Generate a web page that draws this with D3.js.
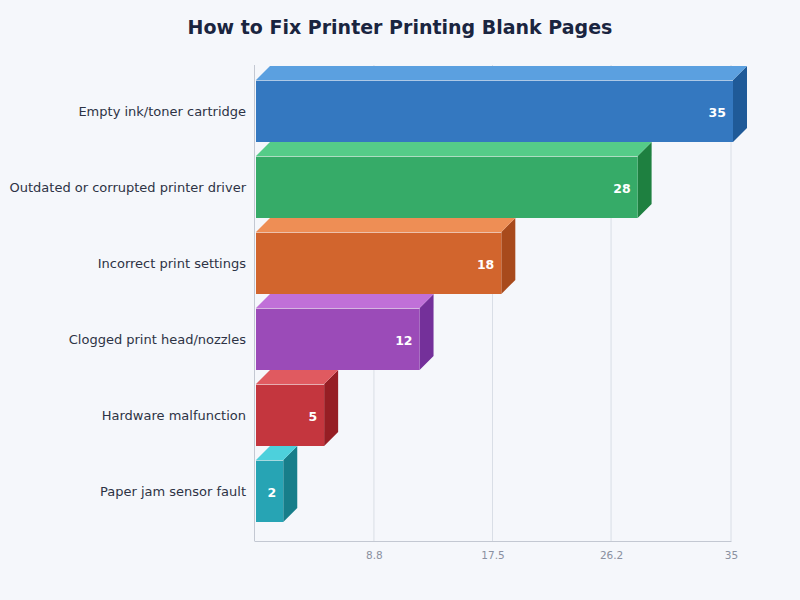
<!DOCTYPE html>
<html>
<head>
<meta charset="utf-8">
<script src="https://cdn.jsdelivr.net/npm/d3@7"></script>
<style>
  html, body { margin: 0; padding: 0; background: #f5f7fb; }
  svg { display: block; font-family: "DejaVu Sans", sans-serif; }
</style>
</head>
<body>
<svg id="chart" width="800" height="600"></svg>
<script>
const categories = [
  "Empty ink/toner cartridge",
  "Outdated or corrupted printer driver",
  "Incorrect print settings",
  "Clogged print head/nozzles",
  "Hardware malfunction",
  "Paper jam sensor fault"
];
const values = [35, 28, 18, 12, 5, 2];
const frontColors = ["#3478c0", "#36ab68", "#d2652d", "#9b4bb8", "#c4363e", "#27a4b4"];
const topColors   = ["#5ba0e0", "#55cc88", "#ee8e55", "#c070d8", "#e05a60", "#4dd0dc"];
const sideColors  = ["#1f5a98", "#1e8040", "#a84a1c", "#74309a", "#961e24", "#177e8a"];
const tickValues = [8.8, 17.5, 26.2, 35];
const title = "How to Fix Printer Printing Blank Pages";

const svg = d3.select("#chart");
const W = 800, H = 600;
const pLeft = 254, pRight = 731, pTop = 65, pBottom = 541;
const depth = 14;

svg.append("rect").attr("width", W).attr("height", H).attr("fill", "#f5f7fb");

svg.append("text")
  .attr("x", W / 2).attr("y", 34)
  .attr("text-anchor", "middle")
  .attr("font-size", 19).attr("font-weight", "bold")
  .attr("fill", "#1a2540")
  .text(title);

const x = d3.scaleLinear().domain([0, 35]).range([pLeft, pRight]);
const y = d3.scaleBand().domain(categories).range([pTop - 2, pBottom - 2])
  .paddingInner(14 / 76).paddingOuter(0.2237);

// gridlines
svg.append("g").selectAll("line").data(tickValues).join("line")
  .attr("x1", d => x(d)).attr("x2", d => x(d))
  .attr("y1", pTop).attr("y2", pBottom)
  .attr("stroke", "#d9dee6").attr("stroke-width", 1);

// axes
const xAxis = d3.axisBottom(x).tickValues(tickValues).tickSize(0).tickPadding(11)
  .tickFormat(d => String(d));
const gx = svg.append("g").attr("transform", `translate(0,${pBottom})`).call(xAxis);
gx.select(".domain").attr("stroke", "#c3c8d2");
gx.selectAll("text").attr("fill", "#8a90a0").attr("font-size", 10.5)
  .attr("font-family", "DejaVu Sans, sans-serif");

svg.append("line")
  .attr("x1", pLeft + 0.5).attr("x2", pLeft + 0.5)
  .attr("y1", pTop).attr("y2", pBottom)
  .attr("stroke", "#c3c8d2");

// category labels
svg.append("g").selectAll("text").data(categories).join("text")
  .attr("x", pLeft - 8)
  .attr("y", d => y(d) + y.bandwidth() / 2)
  .attr("dy", "0.35em")
  .attr("text-anchor", "end")
  .attr("font-size", 13)
  .attr("fill", "#2d3345")
  .text(d => d);

// bars
const data = categories.map((c, i) => ({ c, v: values[i], i }));
const bars = svg.append("g").selectAll("g").data(data).join("g");
const x0 = x(0) + 2;

bars.append("path") // side
  .attr("d", d => {
    const x1 = x0 + x(d.v) - x(0), y0 = y(d.c), h = y.bandwidth();
    return `M${x1},${y0} L${x1 + depth},${y0 - depth} L${x1 + depth},${y0 + h - depth} L${x1},${y0 + h} Z`;
  })
  .attr("fill", d => sideColors[d.i]);

bars.append("path") // top
  .attr("d", d => {
    const x1 = x0 + x(d.v) - x(0), y0 = y(d.c);
    return `M${x0},${y0} L${x0 + depth},${y0 - depth} L${x1 + depth},${y0 - depth} L${x1},${y0} Z`;
  })
  .attr("fill", d => topColors[d.i]);

bars.append("rect") // front
  .attr("x", x0)
  .attr("y", d => y(d.c))
  .attr("width", d => x(d.v) - x(0))
  .attr("height", y.bandwidth())
  .attr("fill", d => frontColors[d.i]);

bars.append("line") // highlight
  .attr("x1", x0).attr("x2", d => x0 + x(d.v) - x(0))
  .attr("y1", d => y(d.c) + 0.5).attr("y2", d => y(d.c) + 0.5)
  .attr("stroke", "#ffffff").attr("stroke-opacity", 0.6);

bars.append("text")
  .attr("x", d => x0 + x(d.v) - x(0) - 7)
  .attr("y", d => y(d.c) + y.bandwidth() / 2 + 2)
  .attr("dy", "0.35em")
  .attr("text-anchor", "end")
  .attr("font-size", 12.5).attr("font-weight", "bold")
  .attr("fill", "#ffffff")
  .text(d => d.v);
</script>
</body>
</html>
